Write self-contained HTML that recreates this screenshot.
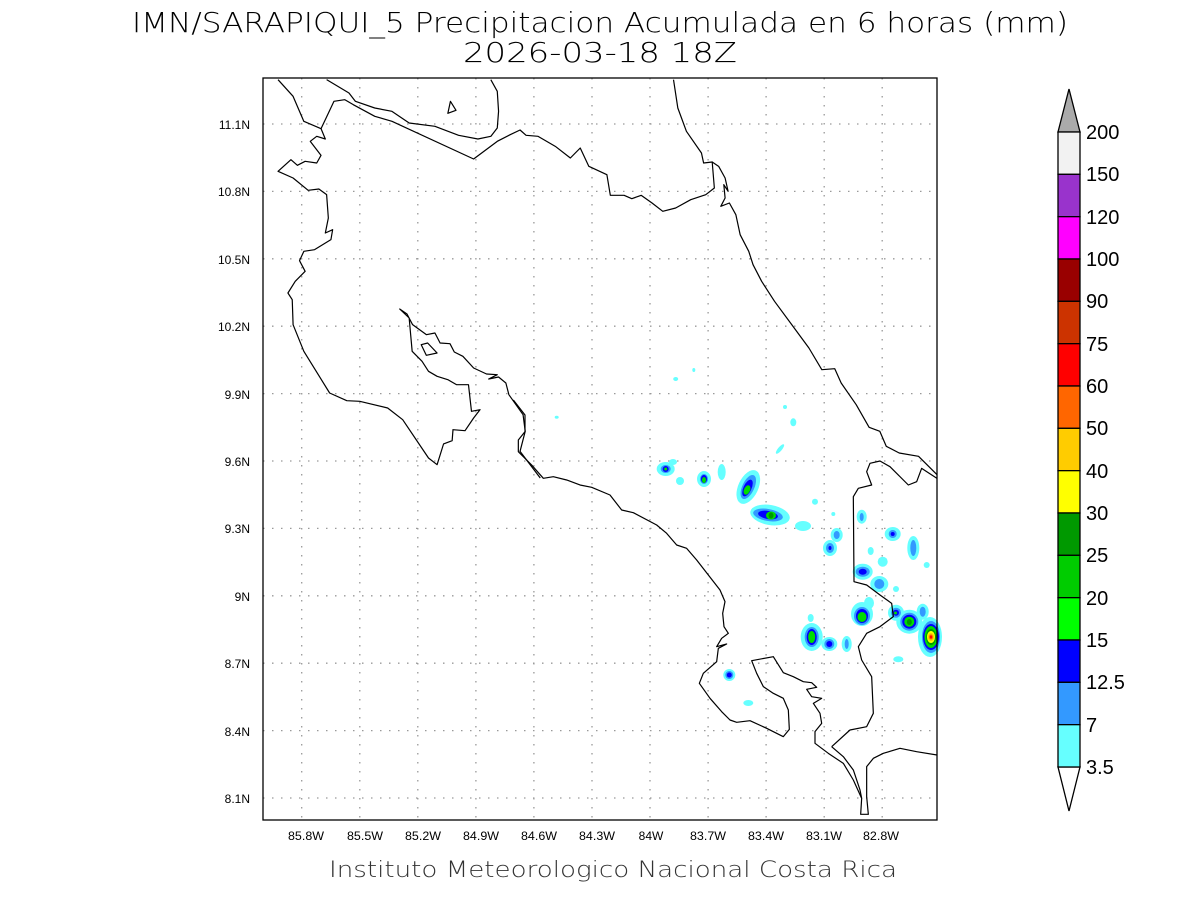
<!DOCTYPE html>
<html><head><meta charset="utf-8"><style>
html,body{margin:0;padding:0;background:#fff;}
svg{display:block;}
text{font-family:"Liberation Sans",sans-serif;fill:#000;}
.thin{font-family:"DejaVu Sans","Liberation Sans",sans-serif;font-weight:200;}
</style></head><body>
<svg width="1200" height="900" viewBox="0 0 1200 900" xmlns="http://www.w3.org/2000/svg">
<rect width="1200" height="900" fill="#fff"/>
<text class="thin" x="600" y="32" font-size="28" text-anchor="middle" textLength="936" lengthAdjust="spacingAndGlyphs">IMN/SARAPIQUI_5 Precipitacion Acumulada en 6 horas (mm)</text>
<text class="thin" x="600" y="62" font-size="28" text-anchor="middle" textLength="274" lengthAdjust="spacingAndGlyphs">2026-03-18 18Z</text>
<text class="thin" x="613" y="877" font-size="22" text-anchor="middle" textLength="568" lengthAdjust="spacingAndGlyphs" style="fill:#333">Instituto Meteorologico Nacional Costa Rica</text>

<g stroke="#999" stroke-width="1.3" stroke-dasharray="1.5,7.5">
<line x1="301.7" y1="78" x2="301.7" y2="820"/><line x1="359.8" y1="78" x2="359.8" y2="820"/><line x1="417.8" y1="78" x2="417.8" y2="820"/><line x1="475.9" y1="78" x2="475.9" y2="820"/><line x1="533.9" y1="78" x2="533.9" y2="820"/><line x1="592" y1="78" x2="592" y2="820"/><line x1="650" y1="78" x2="650" y2="820"/><line x1="708.1" y1="78" x2="708.1" y2="820"/><line x1="766.1" y1="78" x2="766.1" y2="820"/><line x1="824.2" y1="78" x2="824.2" y2="820"/><line x1="882.2" y1="78" x2="882.2" y2="820"/>
<line x1="263" y1="124" x2="937" y2="124"/><line x1="263" y1="191.4" x2="937" y2="191.4"/><line x1="263" y1="258.8" x2="937" y2="258.8"/><line x1="263" y1="326.2" x2="937" y2="326.2"/><line x1="263" y1="393.6" x2="937" y2="393.6"/><line x1="263" y1="461" x2="937" y2="461"/><line x1="263" y1="528.4" x2="937" y2="528.4"/><line x1="263" y1="595.8" x2="937" y2="595.8"/><line x1="263" y1="663.2" x2="937" y2="663.2"/><line x1="263" y1="730.6" x2="937" y2="730.6"/><line x1="263" y1="798" x2="937" y2="798"/>
</g>

<g>
<g fill="#66ffff">
<ellipse cx="665.7" cy="469" rx="9" ry="7"/><ellipse cx="673" cy="462" rx="4" ry="3"/>
<ellipse cx="704" cy="479" rx="7" ry="8"/>
<ellipse cx="721.7" cy="472" rx="4" ry="8"/>
<ellipse cx="680" cy="481" rx="4" ry="4"/>
<ellipse cx="748.3" cy="487" rx="10" ry="18" transform="rotate(25 748.3 487)"/>
<ellipse cx="770" cy="515" rx="20" ry="10" transform="rotate(10 770 515)"/>
<ellipse cx="793.3" cy="422.3" rx="3" ry="4"/><ellipse cx="785" cy="407" rx="2" ry="2"/>
<ellipse cx="780" cy="449" rx="2" ry="6" transform="rotate(40 780 449)"/>
<ellipse cx="815" cy="501.7" rx="3" ry="3"/><ellipse cx="803" cy="526" rx="8" ry="5"/>
<ellipse cx="836.7" cy="535" rx="6" ry="7"/><ellipse cx="830" cy="548" rx="7" ry="8"/>
<ellipse cx="861.7" cy="516.7" rx="5" ry="7"/><ellipse cx="892.7" cy="534" rx="8" ry="7"/>
<ellipse cx="913.3" cy="548" rx="6" ry="12"/><ellipse cx="870.7" cy="551" rx="3" ry="4"/>
<ellipse cx="882.7" cy="561.7" rx="5" ry="5"/><ellipse cx="862.7" cy="571.7" rx="10" ry="8"/>
<ellipse cx="879.3" cy="584" rx="9" ry="8"/><ellipse cx="896" cy="589" rx="3" ry="3"/>
<ellipse cx="926.7" cy="565" rx="3" ry="3"/><ellipse cx="862" cy="614" rx="11" ry="12"/>
<ellipse cx="869" cy="603" rx="5" ry="6"/><ellipse cx="896" cy="612.7" rx="8" ry="8"/>
<ellipse cx="909.3" cy="621.7" rx="13" ry="12"/><ellipse cx="922.7" cy="611.7" rx="6" ry="8"/>
<ellipse cx="930" cy="637" rx="12" ry="20"/><ellipse cx="811.7" cy="637" rx="11" ry="14"/>
<ellipse cx="829.3" cy="644" rx="8" ry="7"/><ellipse cx="846.7" cy="644" rx="5" ry="8"/>
<ellipse cx="810.7" cy="618" rx="3" ry="4"/><ellipse cx="729.3" cy="675" rx="6" ry="6"/>
<ellipse cx="748.3" cy="703" rx="5" ry="3"/><ellipse cx="898.3" cy="659.3" rx="5" ry="3"/>
<ellipse cx="556.7" cy="417.3" rx="2" ry="1.5"/><ellipse cx="833.3" cy="514" rx="2" ry="2"/>
<ellipse cx="693.8" cy="370" rx="1.5" ry="2"/><ellipse cx="675.7" cy="379" rx="2.5" ry="2"/>
</g>
<g fill="#3399ff">
<ellipse cx="665.7" cy="469" rx="5" ry="4"/><ellipse cx="704" cy="479" rx="4" ry="5"/>
<ellipse cx="748.3" cy="487" rx="6" ry="13" transform="rotate(25 748.3 487)"/>
<ellipse cx="768" cy="515" rx="15" ry="6" transform="rotate(10 768 515)"/>
<ellipse cx="836.7" cy="535" rx="3" ry="4"/><ellipse cx="830" cy="548" rx="4" ry="5"/>
<ellipse cx="861.7" cy="517" rx="2" ry="4"/><ellipse cx="892.7" cy="534" rx="4" ry="4"/>
<ellipse cx="913.3" cy="548" rx="3" ry="8"/><ellipse cx="862.7" cy="571.7" rx="7" ry="5"/>
<ellipse cx="879.3" cy="584" rx="5" ry="5"/><ellipse cx="862" cy="616" rx="8" ry="9"/>
<ellipse cx="896" cy="612.7" rx="5" ry="5"/><ellipse cx="909.3" cy="621.7" rx="9" ry="9"/>
<ellipse cx="922.7" cy="611.7" rx="3" ry="5"/><ellipse cx="931" cy="637" rx="9" ry="16"/>
<ellipse cx="811.7" cy="637" rx="7" ry="10"/><ellipse cx="829.3" cy="644" rx="5" ry="5"/>
<ellipse cx="846.7" cy="644" rx="2" ry="5"/><ellipse cx="729.3" cy="675" rx="4" ry="4"/>
</g>
<g fill="#0000ff">
<ellipse cx="665.7" cy="469" rx="3" ry="3"/><ellipse cx="704" cy="479" rx="3" ry="4"/>
<ellipse cx="747.5" cy="488" rx="4" ry="9" transform="rotate(25 747.5 488)"/>
<ellipse cx="768" cy="515" rx="10" ry="4" transform="rotate(10 768 515)"/>
<ellipse cx="892.7" cy="534" rx="2" ry="2"/><ellipse cx="830" cy="548" rx="1.5" ry="2"/>
<ellipse cx="862.7" cy="571.7" rx="4" ry="3"/><ellipse cx="862" cy="616" rx="6" ry="7"/>
<ellipse cx="896" cy="612.7" rx="3" ry="3"/><ellipse cx="909.3" cy="621.7" rx="7" ry="7"/>
<ellipse cx="931" cy="637" rx="8" ry="13"/><ellipse cx="811.7" cy="637" rx="5" ry="8"/>
<ellipse cx="829.3" cy="644" rx="3" ry="3"/><ellipse cx="729.3" cy="675" rx="2.5" ry="2.5"/>
</g>
<g fill="#00dd00">
<ellipse cx="665.7" cy="469" rx="1.5" ry="1.5"/><ellipse cx="704" cy="480" rx="2" ry="3"/>
<ellipse cx="747" cy="490" rx="3" ry="5" transform="rotate(25 747 490)"/>
<ellipse cx="771" cy="515.5" rx="5" ry="4"/><ellipse cx="862" cy="617" rx="4.5" ry="5"/>
<ellipse cx="909.3" cy="621.7" rx="5" ry="5"/><ellipse cx="931" cy="637" rx="6.5" ry="11"/>
<ellipse cx="811.7" cy="637" rx="3.5" ry="6"/><ellipse cx="895.5" cy="613" rx="1.5" ry="1.5"/>
</g>
<g><ellipse cx="931" cy="637" rx="5" ry="8" fill="#009900"/><ellipse cx="931" cy="637" rx="4" ry="6" fill="#ffff00"/><ellipse cx="931" cy="637" rx="3" ry="4" fill="#ffcc00"/><ellipse cx="931" cy="637" rx="2" ry="2.5" fill="#ff6600"/><ellipse cx="931" cy="637" rx="1" ry="1.5" fill="#ff0000"/>
<ellipse cx="771" cy="515.5" rx="2.5" ry="3" fill="#009900"/><ellipse cx="909.3" cy="622" rx="2.5" ry="3" fill="#009900"/>
</g>
</g>

<g fill="none" stroke="#000" stroke-width="1.2" stroke-linejoin="round">
<g transform="translate(263,78) scale(0.42986,0.33333)">
<polyline vector-effect="non-scaling-stroke" points="148,5 200,45 215,70 260,90 300,100 340,135 400,145 455,172 500,183 530,175 545,150 548,100 545,40 530,5"/>
<polygon vector-effect="non-scaling-stroke" points="436,70 449,97 430,106"/>
<polyline vector-effect="non-scaling-stroke" points="35,5 70,55 95,130 135,152 145,183 125,175 110,190 135,232 125,255 98,250 80,262 65,245 35,280 70,300 105,337 130,333 148,350 152,420 145,465 162,455 158,485 120,515 95,520 85,548 98,580 75,610 58,645 68,665 70,740 95,820 155,945 195,968 225,970 290,990 325,1025 385,1140 405,1160 420,1098 440,1088 442,1055 470,1058 490,1020 505,995 485,1000 478,920 450,920 430,905 405,895 385,880 370,850 347,820 340,720 318,693 335,708 348,740 380,770 400,765 412,795 435,797 445,822 465,835 490,870 520,888 545,890 525,903 548,897 565,915 572,950 605,1010 610,1060 598,1120 645,1200"/>
<polygon vector-effect="non-scaling-stroke" points="368,800 383,795 405,825 380,832"/>
<polyline vector-effect="non-scaling-stroke" points="955,5 965,90 985,160 1020,225 1025,255 1045,252 1050,330 1030,350 995,365 960,390 930,400 905,375 880,352 858,362 840,352 808,352 800,290 758,265 738,210 715,240 680,205 640,175 612,172 598,156 575,170 545,190 490,243 300,130 260,115 210,80 190,65 165,70 145,125 135,152"/>
<polyline vector-effect="non-scaling-stroke" points="1045,252 1060,265 1075,300 1082,340 1072,320 1075,360 1065,385 1085,375 1100,410 1110,470 1130,520 1140,560 1160,610 1190,670 1230,740 1270,810 1300,875 1330,872 1345,915 1380,980 1410,1048 1435,1060 1450,1105 1480,1125 1525,1135 1568,1190"/>
</g>
<g transform="translate(500,400) scale(0.33333)">
<polyline vector-effect="non-scaling-stroke" points="40,0 75,45 75,95 55,120 55,155 95,195 130,235 160,230 200,240 240,255 275,262 330,285 365,330 400,338 470,375 500,400 530,435 560,445 590,480 625,525 660,570 675,605 668,640 672,680 685,700 665,715 650,740 680,732 655,745 650,785 610,820 598,850 630,895 665,935 690,960 710,967 750,962 800,985 850,1010 868,988 865,930 850,895 820,880 790,860 770,820 755,782 820,770 850,818 880,830 910,845 935,848 950,862 920,868 935,890 965,895 940,910 960,940 965,970 945,995 945,1030 985,1060 1030,1090 1060,1140 1085,1195 1082,1243 1105,1243 1100,1190 1100,1100 1120,1075 1150,1060 1200,1045 1250,1055 1311,1065"/>
<polyline vector-effect="non-scaling-stroke" points="995,1040 1030,1070 1060,1110 1080,1170 1085,1195"/>
<polyline vector-effect="non-scaling-stroke" points="995,1040 1050,990 1100,980 1120,940 1115,830 1085,780 1075,740 1100,700 1140,680 1180,650 1175,610 1140,585 1100,555 1062,545 1060,290 1075,265 1115,255 1100,215 1110,190 1140,183 1170,200 1210,240 1225,255 1250,245 1265,205 1311,235"/>
</g>
</g>

<rect x="263" y="78" width="674" height="742" fill="none" stroke="#000" stroke-width="1.3"/>

<g font-size="12" style="font-family:'DejaVu Sans','Liberation Sans',sans-serif">
<g text-anchor="end">
<text x="250" y="129">11.1N</text><text x="250" y="196">10.8N</text><text x="250" y="264">10.5N</text><text x="250" y="331">10.2N</text><text x="250" y="399">9.9N</text><text x="250" y="466">9.6N</text><text x="250" y="533">9.3N</text><text x="250" y="601">9N</text><text x="250" y="668">8.7N</text><text x="250" y="736">8.4N</text><text x="250" y="803">8.1N</text>
</g>
<g text-anchor="middle">
<text x="306" y="840" textLength="36" lengthAdjust="spacingAndGlyphs">85.8W</text><text x="365" y="840" textLength="36" lengthAdjust="spacingAndGlyphs">85.5W</text><text x="423" y="840" textLength="36" lengthAdjust="spacingAndGlyphs">85.2W</text><text x="481" y="840" textLength="36" lengthAdjust="spacingAndGlyphs">84.9W</text><text x="539" y="840" textLength="36" lengthAdjust="spacingAndGlyphs">84.6W</text><text x="597" y="840" textLength="36" lengthAdjust="spacingAndGlyphs">84.3W</text><text x="651" y="840">84W</text><text x="708" y="840" textLength="36" lengthAdjust="spacingAndGlyphs">83.7W</text><text x="766" y="840" textLength="36" lengthAdjust="spacingAndGlyphs">83.4W</text><text x="824" y="840" textLength="36" lengthAdjust="spacingAndGlyphs">83.1W</text><text x="881" y="840" textLength="36" lengthAdjust="spacingAndGlyphs">82.8W</text>
</g>
</g>

<g stroke="#000" stroke-width="1.3">
<polygon points="1058,132 1080,132 1069,89" fill="#aaaaaa"/>
<polygon points="1058,767 1080,767 1069,811" fill="#fff"/>
<rect x="1058" y="132" width="22" height="42.33" fill="#f2f2f2"/>
<rect x="1058" y="174.33" width="22" height="42.33" fill="#9933cc"/>
<rect x="1058" y="216.67" width="22" height="42.33" fill="#ff00ff"/>
<rect x="1058" y="259" width="22" height="42.33" fill="#990000"/>
<rect x="1058" y="301.33" width="22" height="42.33" fill="#cc3300"/>
<rect x="1058" y="343.67" width="22" height="42.33" fill="#ff0000"/>
<rect x="1058" y="386" width="22" height="42.33" fill="#ff6600"/>
<rect x="1058" y="428.33" width="22" height="42.33" fill="#ffcc00"/>
<rect x="1058" y="470.67" width="22" height="42.33" fill="#ffff00"/>
<rect x="1058" y="513" width="22" height="42.33" fill="#009900"/>
<rect x="1058" y="555.33" width="22" height="42.33" fill="#00cc00"/>
<rect x="1058" y="597.67" width="22" height="42.33" fill="#00ff00"/>
<rect x="1058" y="640" width="22" height="42.33" fill="#0000ff"/>
<rect x="1058" y="682.33" width="22" height="42.33" fill="#3399ff"/>
<rect x="1058" y="724.67" width="22" height="42.33" fill="#66ffff"/>
</g>
<g font-size="20">
<text x="1086" y="139">200</text><text x="1086" y="181">150</text><text x="1086" y="224">120</text><text x="1086" y="266">100</text><text x="1086" y="308">90</text><text x="1086" y="351">75</text><text x="1086" y="393">60</text><text x="1086" y="435">50</text><text x="1086" y="478">40</text><text x="1086" y="520">30</text><text x="1086" y="562">25</text><text x="1086" y="605">20</text><text x="1086" y="647">15</text><text x="1086" y="689">12.5</text><text x="1086" y="732">7</text><text x="1086" y="774">3.5</text>
</g>
</svg>
</body></html>
